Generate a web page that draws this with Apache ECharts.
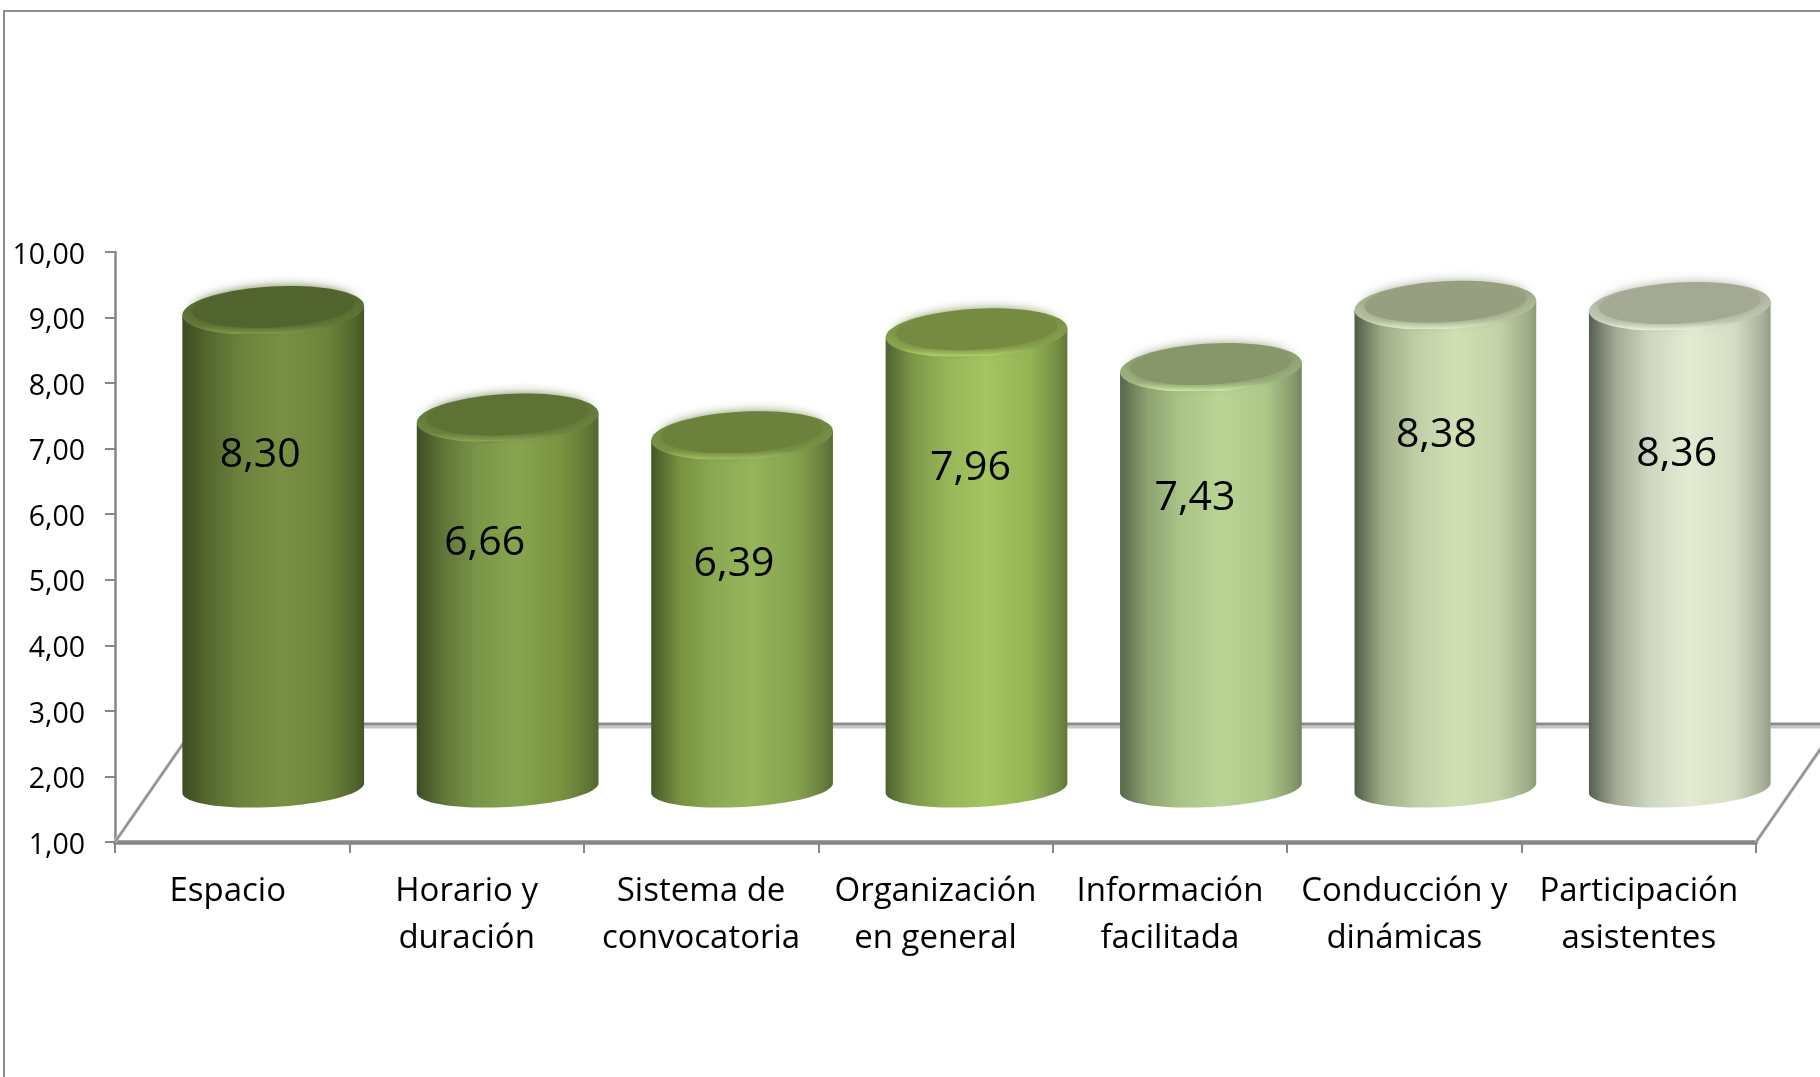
<!DOCTYPE html>
<html><head><meta charset="utf-8">
<style>html,body{margin:0;padding:0;background:#fff}#c{width:1820px;height:1077px}</style>
<script src="https://cdn.jsdelivr.net/npm/echarts@6/dist/echarts.min.js"></script>
</head><body><div id="c"></div>
<script>
const categories = ['Espacio','Horario y\nduración','Sistema de\nconvocatoria','Organización\nen general','Información\nfacilitada','Conducción y\ndinámicas','Participación\nasistentes'];
const values = [8.30,6.66,6.39,7.96,7.43,8.38,8.36];
const valueLabels = ['8,30','6,66','6,39','7,96','7,43','8,38','8,36'];
const yTicks = ['1,00','2,00','3,00','4,00','5,00','6,00','7,00','8,00','9,00','10,00'];
const labelDx = [-13,-23,-8,-6,-16,-9,-3];
const labelDy = [145,125,129,136,131,130,148];
const palettes = [
 {s:['#3d4b22','#566a30','#7a9144','#6c833b','#455526'],top:'#52642d',rim:'#65793a',hi:'#84a04c'},
 {s:['#3f4e24','#60763a','#87a54f','#78923f','#53662f'],top:'#5e7234',rim:'#6e8540',hi:'#8eab54'},
 {s:['#46572a','#76903f','#95b55b','#86a24e','#586b33'],top:'#6c823c',rim:'#7b9546',hi:'#a5c566'},
 {s:['#4f6131','#7d9848','#a4c560','#94b455','#617739'],top:'#768a42',rim:'#8aa64f',hi:'#b8d96f'},
 {s:['#57664a','#8ca270','#b9d494','#aec88a','#74865f'],top:'#87976a',rim:'#9fb581',hi:'#d4eea8'},
 {s:['#525d47','#9dab85','#d1dfb4','#c2d1a6','#8d9b78'],top:'#969f80',rim:'#bbc8a2',hi:'#e6f2cc'},
 {s:['#565e50','#a4ac97','#e3ecd3','#d5ddc5','#959d88'],top:'#a4a993',rim:'#c7cfb8',hi:'#f1f7e4'}
];
const FONT = '"Open Sans", sans-serif';
const DX = 41, DY = 53, RX = 91, ROT = 0.055;

function pt(cx,cy,rx,ry,a){
  const c=Math.cos(ROT),s=Math.sin(ROT),x=rx*Math.cos(a),y=ry*Math.sin(a);
  return [cx+x*c+y*s, cy-x*s+y*c];
}
function arc(cx,cy,rx,ry,a0,a1,n){
  const pts=[];
  for(let i=0;i<=n;i++) pts.push(pt(cx,cy,rx,ry,a0+(a1-a0)*i/n));
  return pts;
}
function mix(a,b,t){
  const h=(c,i)=>parseInt(c.substr(1+i*2,2),16);
  let r='#';
  for(let i=0;i<3;i++){const v=Math.round(h(a,i)+(h(b,i)-h(a,i))*t);r+=(v<16?'0':'')+v.toString(16);}
  return r;
}
function hgrad(st){return new echarts.graphic.LinearGradient(0,0,1,0,[
  {offset:0,color:st[0]},{offset:.15,color:st[1]},{offset:.33,color:mix(st[1],st[2],.65)},{offset:.55,color:st[2]},
  {offset:.8,color:st[3]},{offset:.95,color:mix(st[3],st[4],.65)},{offset:1,color:st[4]}]);}

function cylinder(params,api){
  const i=params.dataIndex, v=api.value(1);
  const top=api.coord([i,v]), base=api.coord([i,1]);
  const p=palettes[i];
  const cx=top[0]+DX, ty=top[1]-DY, by=base[1]-54;
  const pts=[pt(cx,ty,RX,24,Math.PI),pt(cx,ty,RX,24,0)].concat(arc(cx,by,RX,19,0,Math.PI,40));
  return {type:'group',children:[
    {type:'polygon',shape:{points:pts},style:{fill:hgrad(p.s)}},
    {type:'polygon',shape:{points:arc(cx,ty,RX,24,0,Math.PI*2,72)},
      style:{fill:new echarts.graphic.LinearGradient(0,0,0,1,[{offset:0,color:p.top},{offset:.8,color:p.rim},{offset:.975,color:p.hi},{offset:1,color:p.rim}])}},
    {type:'polygon',shape:{points:arc(cx,ty-3,RX-10,20,0,Math.PI*2,72)},
      style:{fill:p.top,shadowBlur:11,shadowColor:p.top}},
    {type:'text',style:{text:valueLabels[i],x:cx+labelDx[i],y:ty+labelDy[i],align:'center',verticalAlign:'middle',
      fontFamily:FONT,fontSize:41,fill:'#000'}}
  ]};
}
function floor(params,api){
  const g=params.coordSys;
  const ax=g.x, bx=g.x+g.width, y0=g.y+g.height;
  const backY=y0-117, skew=81;
  const line=(x1,y1,x2,y2,c,w)=>({type:'line',shape:{x1,y1,x2,y2},style:{stroke:c,lineWidth:w}});
  return {type:'group',silent:true,children:[
    line(ax,y0,ax+skew,backY,'#c4c4c4',3.5),
    line(ax,y0,ax+skew,backY,'#8c8c8c',1.8),
    line(bx,y0,bx+skew,backY,'#c4c4c4',3.5),
    line(bx,y0,bx+skew,backY,'#8c8c8c',1.8),
    line(ax+skew,backY+2,bx+skew,backY+2,'#c6c6c6',3),
    line(ax+skew,backY-1,bx+skew,backY-1,'#8c8c8c',3)
  ]};
}

const chart=echarts.init(document.getElementById('c'),null,{renderer:'canvas'});
chart.setOption({
  animation:false,
  backgroundColor:'#fff',
  graphic:[{type:'rect',shape:{x:4,y:11,width:1900,height:1200},style:{fill:'none',stroke:'#8e8e8e',lineWidth:2},z:-1}],
  grid:{left:115,top:252,width:1641,height:590},
  xAxis:{type:'category',data:categories,boundaryGap:true,
    axisLine:{show:true,lineStyle:{color:'#868686',width:4.5}},
    axisTick:{show:true,alignWithLabel:false,length:11,lineStyle:{color:'#868686',width:2}},
    axisLabel:{interval:0,margin:26,fontFamily:FONT,fontSize:33,lineHeight:47,color:'#000',
      formatter:(v,i)=>i===0?'{a|'+v+'}':v,
      rich:{a:{padding:[0,9,0,0],fontFamily:FONT,fontSize:33,lineHeight:47,color:'#000'}}}},
  yAxis:{type:'value',min:1,max:10,interval:1,
    axisLine:{show:true,lineStyle:{color:'#868686',width:2.5}},
    axisTick:{show:true,length:10,lineStyle:{color:'#868686',width:2}},
    axisLabel:{margin:30,fontFamily:FONT,fontSize:28.5,color:'#000',
      formatter:(v)=>'{t|'+yTicks[Math.round(v)-1]+'}',
      rich:{t:{padding:[7,0,0,0],fontFamily:FONT,fontSize:28.5,color:'#000'}}},
    splitLine:{show:false}},
  series:[
    {type:'custom',renderItem:floor,data:[[0,1]],clip:false,silent:true,z:1,encode:{x:0,y:1}},
    {type:'custom',renderItem:cylinder,data:values.map((v,i)=>[i,v]),clip:false,z:3,encode:{x:0,y:1}}
  ]
});
</script></body></html>
